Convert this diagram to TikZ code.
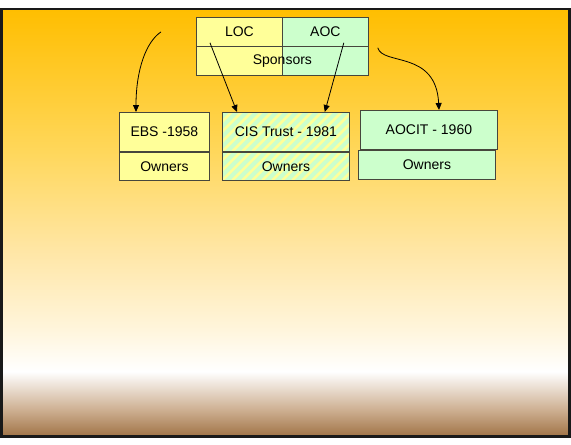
\documentclass[tikz,border=0pt]{standalone}
\usepackage{fontspec}
\setmainfont{Liberation Sans}
\definecolor{locyellow}{RGB}{255, 255, 153}
\definecolor{aocgreen}{RGB}{204, 255, 204}
\definecolor{slidetop}{RGB}{255, 190, 0}
\definecolor{slideupper}{RGB}{255, 215, 90}
\definecolor{slidemid}{RGB}{255, 230, 165}
\definecolor{slidecream}{RGB}{255, 245, 220}
\definecolor{slidetan}{RGB}{205, 175, 145}
\definecolor{slidebrown}{RGB}{160, 115, 70}
\definecolor{boxline}{RGB}{70, 70, 60}
\usetikzlibrary{arrows.meta, positioning, calc}
\pgfdeclareverticalshading{slidefade}{100bp}{color(0bp)=(slidebrown); color(25bp)=(slidebrown); color(28.1bp)=(slidetan); color(32.6bp)=(white); color(37.5bp)=(slidecream); color(46.8bp)=(slidemid); color(58.5bp)=(slideupper); color(75bp)=(slidetop); color(100bp)=(slidetop)}

\begin{document}
\begin{tikzpicture}[x=1pt, y=-1pt,
    cell/.style={draw=boxline, line width=0.8pt, font=\fontsize{14}{16}\selectfont, inner sep=0pt},
    striped/.style={fill=aocgreen, path picture={
      \foreach \k in {-50,-40,...,140}
        \draw[locyellow, line width=2.6pt] ([xshift=\k pt]path picture bounding box.south west) -- ++(50,-50);
    }},
    conn/.style={line width=0.8pt, -{Triangle[length=7pt, width=6pt]}}]
  \useasboundingbox (0,0) rectangle (571,445);

  % Slide background
  \shade[shading=slidefade] (1.5,9) rectangle (569.5,436.5);
  \draw[line width=2.5pt, black!90] (1.5,9) rectangle (569.5,436.5);

  % Sponsors
  \fill[locyellow] (196,46) rectangle (282,75);
  \fill[aocgreen] (282,46) rectangle (368,75);
  \node[cell, fill=locyellow, anchor=north west, minimum width=86, minimum height=29] (loc) at (196,17) {LOC};
  \node[cell, fill=aocgreen, anchor=north west, minimum width=86, minimum height=29] (aoc) at (282,17) {AOC};
  \draw[boxline, line width=0.8pt] (aoc.south west) -- ++(0,29);
  \node[cell, anchor=north west, minimum width=172, minimum height=29] (sponsors) at (196,46) {Sponsors};

  % EBS
  \node[cell, fill=locyellow, anchor=north west, minimum width=90, minimum height=39] (ebs) at (119,112) {EBS -1958};
  \node[cell, fill=locyellow, minimum width=90, minimum height=28, below=0pt of ebs] (ebsown) {Owners};

  % CIS Trust
  \node[cell, striped, anchor=north west, minimum width=127, minimum height=39] (cis) at (222,112) {CIS Trust - 1981};
  \node[cell, striped, minimum width=127, minimum height=28, below=0pt of cis] (cisown) {Owners};

  % AOCIT
  \node[cell, fill=aocgreen, anchor=north west, minimum width=137, minimum height=39] (aocit) at (360,110) {AOCIT - 1960};
  \node[cell, fill=aocgreen, anchor=north west, minimum width=137, minimum height=29] (aocitown) at (358,150) {Owners};

  % Links
  \coordinate (ebsfrom) at ([xshift=-35pt]loc.west);
  \coordinate (ebsto) at ([xshift=17pt]ebs.north west);
  \coordinate (cisleft) at ([shift={(14,-4)}]loc.south west);
  \coordinate (cisleftto) at ([xshift=15pt]cis.north west);
  \coordinate (cisright) at ([shift={(-25,-4)}]aoc.south east);
  \coordinate (cisrightto) at ([xshift=-25pt]cis.north east);
  \coordinate (aocitfrom) at ([shift={(9,1)}]aoc.south east);
  \coordinate (aocitto) at ([xshift=79pt]aocit.north west);

  \draw[conn] (ebsfrom) .. controls +(-15,10) and +(0,-42) .. (ebsto);
  \draw[conn] (cisleft) -- (cisleftto);
  \draw[conn] (cisright) -- (cisrightto);
  \draw[conn] (aocitfrom) .. controls +(5,18) and +(-3,-60) .. (aocitto);
\end{tikzpicture}
\end{document}
